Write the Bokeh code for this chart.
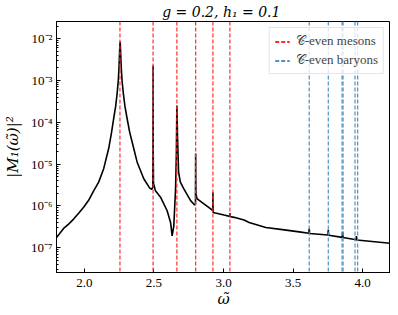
from bokeh.plotting import figure
from bokeh.models import Range1d, FixedTicker, CustomJSTickFormatter, NumeralTickFormatter, Legend, LegendItem, Span
from bokeh.embed import file_html
from bokeh.resources import INLINE

# ---- data ----
omega = [1.800, 1.851, 1.887, 1.923, 1.959, 1.995, 2.031, 2.067, 2.103, 2.139,
         2.175, 2.195, 2.211, 2.225, 2.236, 2.244, 2.249, 2.2525, 2.255, 2.257,
         2.259, 2.2615, 2.2655, 2.271, 2.280, 2.292, 2.307, 2.325, 2.343, 2.379,
         2.427, 2.470, 2.4834, 2.492, 2.4933, 2.4938, 2.494, 2.4943, 2.4950, 2.497,
         2.511, 2.5476, 2.595, 2.6196, 2.631, 2.643, 2.6556, 2.661, 2.665, 2.670,
         2.677, 2.690, 2.715, 2.7637, 2.7925, 2.7985, 2.7995, 2.800, 2.8005, 2.802,
         2.811, 2.8595, 2.9078, 2.9225, 2.9235, 2.924, 2.9245, 2.926, 3.0036, 3.045,
         3.046, 3.047, 3.0756, 3.148, 3.184, 3.304, 3.4236, 3.544, 3.613, 3.616,
         3.619, 3.750, 3.753, 3.756, 3.853, 3.856, 3.859, 3.953, 3.955, 3.958,
         4.200]
m1_sq = [1.76e-7, 2.90e-7, 3.68e-7, 4.86e-7, 6.7e-7, 9.3e-7, 1.37e-6, 2.30e-6, 3.72e-6, 7.8e-6,
         2.36e-5, 5.6e-5, 1.25e-4, 2.4e-4, 5.0e-4, 1.0e-3, 2.0e-3, 4.0e-3, 6.8e-3, 8.5e-3,
         7.0e-3, 4.0e-3, 2.0e-3, 1.0e-3, 5.0e-4, 2.4e-4, 1.25e-4, 6.0e-5, 3.43e-5, 1.13e-5,
         4.48e-6, 2.67e-6, 2.50e-6, 2.8e-6, 2.0e-5, 4.0e-4, 2.27e-3, 4.0e-4, 2.0e-5, 3.5e-6,
         2.3e-6, 1.62e-6, 7.7e-7, 4.05e-7, 1.92e-7, 3.35e-7, 2.57e-6, 1.63e-5, 2.52e-4, 4.1e-5,
         6.5e-6, 3.72e-6, 2.57e-6, 1.34e-6, 1.06e-6, 1.1e-6, 6.0e-6, 1.79e-5, 6.0e-6, 1.9e-6,
         1.48e-6, 1.12e-6, 8.5e-7, 7.8e-7, 1.5e-6, 2.14e-6, 1.2e-6, 7.0e-7, 6.07e-7, 5.65e-7,
         6.8e-7, 5.6e-7, 5.35e-7, 4.6e-7, 4.05e-7, 3.07e-7, 2.72e-7, 2.40e-7, 2.22e-7, 2.9e-7,
         2.2e-7, 2.02e-7, 2.69e-7, 2.0e-7, 1.78e-7, 2.40e-7, 1.76e-7, 1.56e-7, 1.92e-7, 1.54e-7,
         1.28e-7]
meson_omega = [2.256, 2.494, 2.665, 2.800, 2.924, 3.046]
baryon_omega = [3.616, 3.753, 3.852, 3.859, 3.945, 3.964]
x_ticks = [2.0, 2.5, 3.0, 3.5, 4.0]
x_lim = (1.8, 4.2)
y_lim = (2.57e-8, 2.57e-2)
title_text = "g = 0.2,  h\u2081 = 0.1"
x_label = "\u03c9\u0303"
y_label = "|M\u2081(\u03c9\u0303)|\u00b2"
meson_label = "\U0001D49E-even mesons"
baryon_label = "\U0001D49E-even baryons"

SERIF = "Liberation Serif"
MATH = "DejaVu Serif"
RED = "#ff2b2b"
BLUE = "#4c92c3"

p = figure(frame_width=334, frame_height=251,
           x_range=Range1d(*x_lim), y_range=Range1d(*y_lim),
           y_axis_type="log", output_backend="svg", toolbar_location=None,
           min_border_left=49, min_border_right=0, min_border_top=20, min_border_bottom=26)

p.title.text = title_text
p.title.align = "center"
p.title.text_font = MATH
p.title.text_font_size = "14px"
p.title.text_font_style = "italic"
p.title.text_color = "black"
p.title.standoff = 3

p.xgrid.visible = False
p.ygrid.visible = False
p.outline_line_color = "black"
p.outline_line_width = 1
p.background_fill_color = "white"
p.border_fill_color = "white"

for ax in (p.xaxis[0], p.yaxis[0]):
    ax.axis_line_color = "black"
    ax.major_tick_in = 4
    ax.major_tick_out = 0
    ax.minor_tick_in = 2
    ax.minor_tick_out = 0
    ax.major_tick_line_color = "black"
    ax.minor_tick_line_color = "black"
    ax.major_label_text_font = SERIF
    ax.major_label_text_font_size = "13px"
    ax.major_label_text_color = "black"
    ax.axis_label_text_font = MATH
    ax.axis_label_text_font_size = "15px"
    ax.axis_label_text_font_style = "italic"
    ax.axis_label_text_color = "black"

p.xaxis.ticker = FixedTicker(ticks=x_ticks)
p.xaxis.formatter = NumeralTickFormatter(format="0.0")
p.xaxis.minor_tick_line_color = None
p.xaxis.major_label_standoff = 6
p.xaxis.axis_label = x_label
p.xaxis.axis_label_standoff = 0

p.yaxis.formatter = CustomJSTickFormatter(code=r"""
const e = Math.round(Math.log10(tick));
const m = {'-':'\u207b','0':'\u2070','1':'\u00b9','2':'\u00b2','3':'\u00b3','4':'\u2074','5':'\u2075','6':'\u2076','7':'\u2077','8':'\u2078','9':'\u2079'};
return '10' + String(e).split('').map(c => m[c]).join('');
""")
p.yaxis.major_label_standoff = 4
p.yaxis.axis_label = y_label
p.yaxis.axis_label_standoff = 6

p.line(omega, m1_sq, line_color="black", line_width=1.6)

for xm in meson_omega:
    p.add_layout(Span(location=xm, dimension="height", line_color=RED,
                      line_dash="4 2", line_width=1.2))
for xb in baryon_omega:
    p.add_layout(Span(location=xb, dimension="height", line_color=BLUE,
                      line_dash="4 2", line_width=1.2))

nan = float("nan")
r_m = p.line(x=[nan], y=[nan], line_color=RED, line_dash="4 2", line_width=2)
r_b = p.line(x=[nan], y=[nan], line_color=BLUE, line_dash="4 2", line_width=2)

legend = Legend(items=[LegendItem(label=meson_label, renderers=[r_m]),
                       LegendItem(label=baryon_label, renderers=[r_b])],
                location="top_right")
legend.label_text_font = SERIF
legend.label_text_font_size = "13px"
legend.label_height = 15
legend.glyph_height = 15
legend.glyph_width = 15
legend.label_standoff = 6
legend.spacing = 3
legend.padding = 5
legend.margin = 6
legend.border_line_color = "#cccccc"
legend.border_line_width = 1
legend.background_fill_color = "white"
legend.background_fill_alpha = 0.8
p.add_layout(legend)

open("out.html", "w").write(file_html(p, INLINE))
